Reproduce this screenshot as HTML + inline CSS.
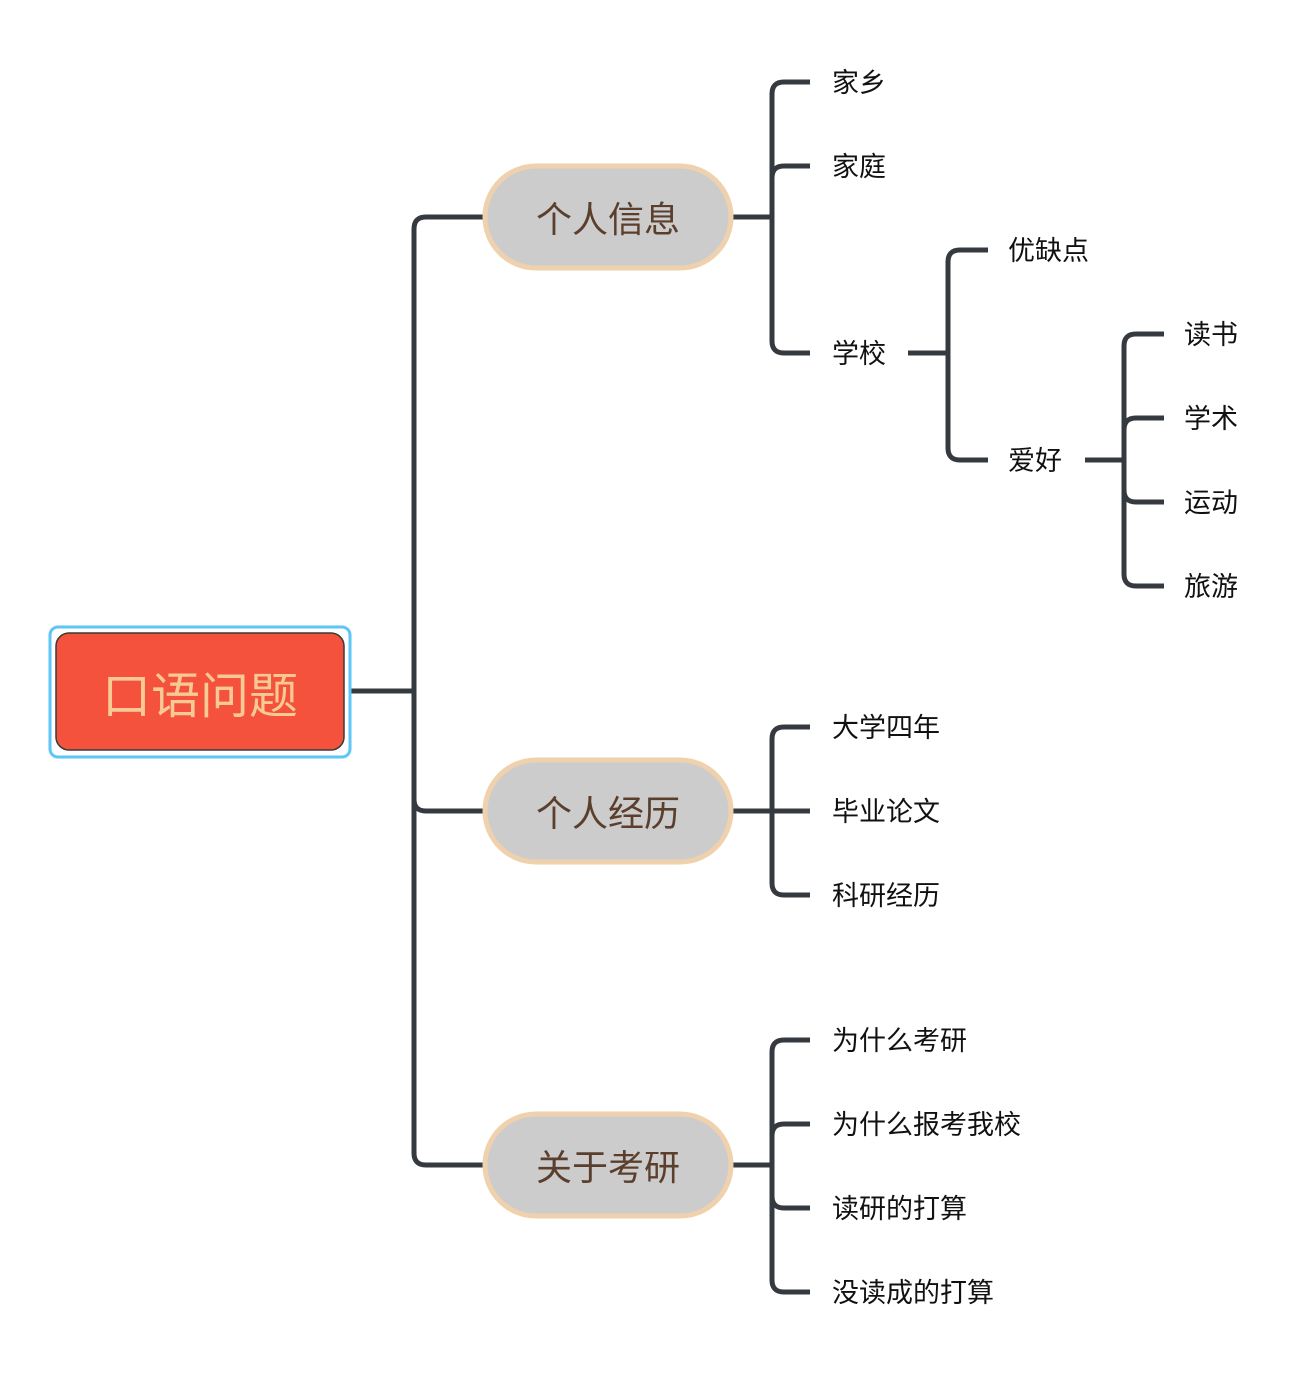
<!DOCTYPE html>
<html><head><meta charset="utf-8"><style>
html,body{margin:0;padding:0;background:#fff;}
svg{display:block}
text{font-family:"Liberation Sans","Noto Sans CJK SC",sans-serif;}
</style></head><body>
<svg width="1310" height="1374" viewBox="0 0 1310 1374" xmlns="http://www.w3.org/2000/svg">
<g fill="none" stroke="#353a40" stroke-width="5" stroke-linecap="butt">
<!-- root trunk -->
<path d="M344,691 H414"/>
<path d="M414,691 V229 Q414,217 426,217 H486"/>
<path d="M414,691 V799 Q414,811 426,811 H486"/>
<path d="M414,691 V1153 Q414,1165 426,1165 H486"/>
<!-- 个人信息 -->
<path d="M732,217 H772"/>
<path d="M772,217 V94 Q772,82 784,82 H810"/>
<path d="M772,217 V178 Q772,166 784,166 H810"/>
<path d="M772,217 V341 Q772,353 784,353 H810"/>
<!-- 学校 -->
<path d="M908,353 H948"/>
<path d="M948,353 V262 Q948,250 960,250 H988"/>
<path d="M948,353 V448 Q948,460 960,460 H988"/>
<!-- 爱好 -->
<path d="M1085,460 H1124"/>
<path d="M1124,460 V346 Q1124,334 1136,334 H1164"/>
<path d="M1124,460 V430 Q1124,418 1136,418 H1164"/>
<path d="M1124,460 V490 Q1124,502 1136,502 H1164"/>
<path d="M1124,460 V574 Q1124,586 1136,586 H1164"/>
<!-- 个人经历 -->
<path d="M732,811 H810"/>
<path d="M772,811 V739 Q772,727 784,727 H810"/>
<path d="M772,811 V883 Q772,895 784,895 H810"/>
<!-- 关于考研 -->
<path d="M732,1165 H772"/>
<path d="M772,1165 V1052 Q772,1040 784,1040 H810"/>
<path d="M772,1165 V1136 Q772,1124 784,1124 H810"/>
<path d="M772,1165 V1196 Q772,1208 784,1208 H810"/>
<path d="M772,1165 V1280 Q772,1292 784,1292 H810"/>
</g>
<!-- root -->
<rect x="50" y="627" width="300" height="130" rx="8" fill="#fff" stroke="#5ec5f5" stroke-width="3"/>
<rect x="56" y="633" width="288" height="117" rx="13" fill="#f4523c" stroke="#3a3a3a" stroke-width="1.5"/>
<text x="200" y="713" font-size="49" fill="#f7c995" text-anchor="middle">口语问题</text>
<!-- level1 -->
<g fill="#cccccc" stroke="#efd1ad" stroke-width="5">
<rect x="485" y="166" width="246" height="102" rx="51"/>
<rect x="485" y="760" width="246" height="102" rx="51"/>
<rect x="485" y="1114" width="246" height="102" rx="51"/>
</g>
<g font-size="36" fill="#5b3f2c" text-anchor="middle">
<text x="608" y="232">个人信息</text>
<text x="608" y="826">个人经历</text>
<text x="608" y="1180">关于考研</text>
</g>
<g font-size="27" fill="#111">
<text x="832" y="92">家乡</text>
<text x="832" y="176">家庭</text>
<text x="832" y="363">学校</text>
<text x="1008" y="260">优缺点</text>
<text x="1008" y="470">爱好</text>
<text x="1184" y="344">读书</text>
<text x="1184" y="428">学术</text>
<text x="1184" y="512">运动</text>
<text x="1184" y="596">旅游</text>
<text x="832" y="737">大学四年</text>
<text x="832" y="821">毕业论文</text>
<text x="832" y="905">科研经历</text>
<text x="832" y="1050">为什么考研</text>
<text x="832" y="1134">为什么报考我校</text>
<text x="832" y="1218">读研的打算</text>
<text x="832" y="1302">没读成的打算</text>
</g>
</svg>
</body></html>
